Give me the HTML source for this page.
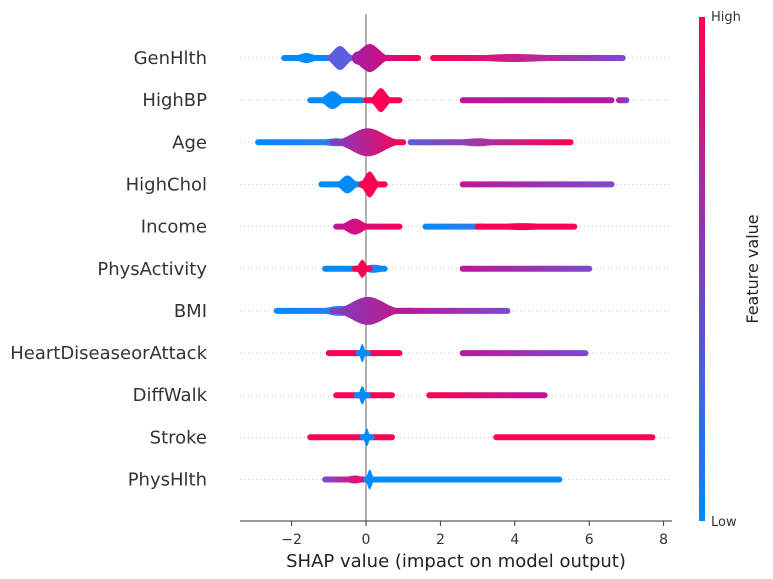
<!DOCTYPE html>
<html><head><meta charset="utf-8"><style>
body{margin:0;background:#fff;}
svg{display:block;font-family:"DejaVu Sans","Liberation Sans",sans-serif;}
</style></head><body>
<svg id="chart" width="773" height="579" viewBox="0 0 773 579">
<defs>
<linearGradient id="cbar" x1="0" y1="1" x2="0" y2="0">
<stop offset="0" stop-color="#008bfb"/><stop offset="0.5" stop-color="#7c3fc4"/><stop offset="1" stop-color="#ff0052"/>
</linearGradient>
</defs>
<g id="grid"></g>
<line x1="366" y1="14" x2="366" y2="521" stroke="#999" stroke-width="1.5"/>
<g id="marks"></g>
<g id="labels"></g>
<line x1="240" y1="521" x2="672" y2="521" stroke="#333" stroke-width="1"/>
<g id="ticks"></g>
<text x="456" y="567" font-size="18" text-anchor="middle" fill="#222">SHAP value (impact on model output)</text>
<rect x="699" y="17" width="6" height="504" fill="url(#cbar)"/>
<text x="711" y="21" font-size="13" fill="#333">High</text>
<text x="711" y="526" font-size="13" fill="#333">Low</text>
<text transform="translate(758,269) rotate(-90)" font-size="16" text-anchor="middle" fill="#222">Feature value</text>
</svg>
<script>
const features=["GenHlth","HighBP","Age","HighChol","Income","PhysActivity","BMI","HeartDiseaseorAttack","DiffWalk","Stroke","PhysHlth"];
const tickValues=[-2,0,2,4,6,8];
const tickLabels=["\u22122","0","2","4","6","8"];
// blobs per feature: [lo, hi, peak, peakHalfHeightPx, peakWidth, colorLeft, colorRight]
const blobsGenHlth=[[-2.2,-0.9,-1.6,5,0.3,"#008bfb","#008bfb"],[-1.0,-0.4,-0.7,12,0.25,"#5a5ee0","#5a5ee0"],[-0.2,1.4,0.1,14,0.35,"#a020a8","#ff0052"],[1.8,6.9,4.0,4,1.5,"#ff0052","#7c4ad0"]];
const blobsHighBP=[[-1.5,-0.1,-0.9,9,0.25,"#008bfb","#008bfb"],[0.0,0.9,0.4,12,0.2,"#ff0052","#ff0052"],[2.6,6.6,4,3,1,"#c0159a","#b01aa0"],[6.8,7.0,6.9,2.5,0.1,"#c0159a","#7c4ad0"]];
const blobsAge=[[-2.9,-0.4,-0.8,4,0.5,"#008bfb","#3a78ea"],[-0.9,1.0,0.05,14,0.6,"#7c3fc4","#ff0052"],[1.2,5.5,3,4,0.7,"#5a5ee0","#ff0052"]];
const blobsHighChol=[[-1.2,-0.2,-0.5,9,0.22,"#008bfb","#008bfb"],[-0.1,0.5,0.1,13,0.18,"#ff0052","#ff0052"],[2.6,6.6,4.5,3,1,"#c0159a","#7c4ad0"]];
const blobsIncome=[[-0.8,0.9,-0.3,8,0.3,"#c0159a","#ff0052"],[1.6,3.2,2.4,3,1,"#008bfb","#3a78ea"],[3.0,5.6,4.2,3.5,1,"#ff0052","#ff0052"]];
const blobsPhysActivity=[[-1.1,0.5,0.2,4,0.4,"#008bfb","#008bfb"],[-0.3,0.1,-0.1,9,0.12,"#ff0052","#ff0052"],[2.6,6.0,4.2,3,1,"#c0159a","#7c4ad0"]];
const blobsBMI=[[-2.4,-0.4,-0.7,5,0.5,"#008bfb","#3a78ea"],[-0.9,1.3,0.05,14,0.6,"#7c3fc4","#d0107a"],[1.0,3.8,2,3,0.6,"#c0159a","#7c4ad0"]];
const blobsHeartDiseaseorAttack=[[-1.0,0.9,0,3,0.5,"#ff0052","#ff0052"],[-0.2,0.05,-0.1,9,0.07,"#008bfb","#008bfb"],[2.6,5.9,4,3,1,"#c0159a","#7c4ad0"]];
const blobsDiffWalk=[[-0.8,0.7,0,3,0.5,"#ff0052","#ff0052"],[-0.25,0.05,-0.1,9,0.08,"#008bfb","#008bfb"],[1.7,4.8,3,3,1,"#ff0052","#c0159a"]];
const blobsStroke=[[-1.5,0.7,0,3,0.5,"#ff0052","#ff0052"],[-0.1,0.15,0.02,9,0.07,"#008bfb","#008bfb"],[3.5,7.7,5.5,3,1,"#ff0052","#ff0052"]];
const blobsPhysHlth=[[-1.1,0.0,-0.3,4,0.3,"#7c4ad0","#ff0052"],[0.0,5.2,2,3,1,"#008bfb","#008bfb"],[0.0,0.25,0.1,10,0.08,"#008bfb","#008bfb"]];
const allBlobs=[blobsGenHlth,blobsHighBP,blobsAge,blobsHighChol,blobsIncome,blobsPhysActivity,blobsBMI,blobsHeartDiseaseorAttack,blobsDiffWalk,blobsStroke,blobsPhysHlth];

const NS="http://www.w3.org/2000/svg";
const xs=v=>366+v*37.2;
const ys=i=>58+i*42.15;
const svg=document.getElementById('chart');
const defs=svg.querySelector('defs');
const grid=document.getElementById('grid'),marks=document.getElementById('marks'),labels=document.getElementById('labels'),ticks=document.getElementById('ticks');
let gid=0;
features.forEach((f,i)=>{
  const y=ys(i);
  const gl=document.createElementNS(NS,'line');
  gl.setAttribute('x1',240);gl.setAttribute('x2',672);gl.setAttribute('y1',y);gl.setAttribute('y2',y);
  gl.setAttribute('stroke','#ccc');gl.setAttribute('stroke-dasharray','1,3');
  
  
  grid.appendChild(gl);
  const t=document.createElementNS(NS,'text');
  t.setAttribute('x',207);t.setAttribute('y',y+6);t.setAttribute('text-anchor','end');t.setAttribute('font-size','18');t.setAttribute('fill','#333');
  t.textContent=f;
  
  
  labels.appendChild(t);
  allBlobs[i].forEach(b=>{
    const [lo,hi,pk,h,w,c1,c2]=b;
    const id='g'+(gid++);
    const lg=document.createElementNS(NS,'linearGradient');
    lg.setAttribute('id',id);lg.setAttribute('x1','0');lg.setAttribute('x2','1');lg.setAttribute('y1','0');lg.setAttribute('y2','0');
    lg.innerHTML='<stop offset="0" stop-color="'+c1+'"/><stop offset="1" stop-color="'+c2+'"/>';
    defs.appendChild(lg);
    const top=[],bot=[];
    const n=40;
    for(let k=0;k<=n;k++){
      const v=lo+(hi-lo)*k/n;
      const hh=Math.max(3,h*Math.exp(-Math.pow((v-pk)/w,2)));
      top.push(xs(v).toFixed(1)+','+(y-hh).toFixed(1));
      bot.unshift(xs(v).toFixed(1)+','+(y+hh).toFixed(1));
    }
    const p=document.createElementNS(NS,'path');
    p.setAttribute('d','M'+top.join(' L')+' A3,3 0 0 1 '+bot[0]+' L'+bot.join(' L')+' A3,3 0 0 1 '+top[0]+'Z');
    p.setAttribute('fill','url(#'+id+')');
    
    
    marks.appendChild(p);
  });
});
tickValues.forEach((v,i)=>{
  const x=xs(v);
  const l=document.createElementNS(NS,'line');
  l.setAttribute('x1',x);l.setAttribute('x2',x);l.setAttribute('y1',521);l.setAttribute('y2',526);l.setAttribute('stroke','#333');
  
  
  ticks.appendChild(l);
  const t=document.createElementNS(NS,'text');
  t.setAttribute('x',x);t.setAttribute('y',544);t.setAttribute('text-anchor','middle');t.setAttribute('font-size','14');t.setAttribute('fill','#333');
  t.textContent=tickLabels[i];
  
  
  ticks.appendChild(t);
});
</script>
</body></html>
